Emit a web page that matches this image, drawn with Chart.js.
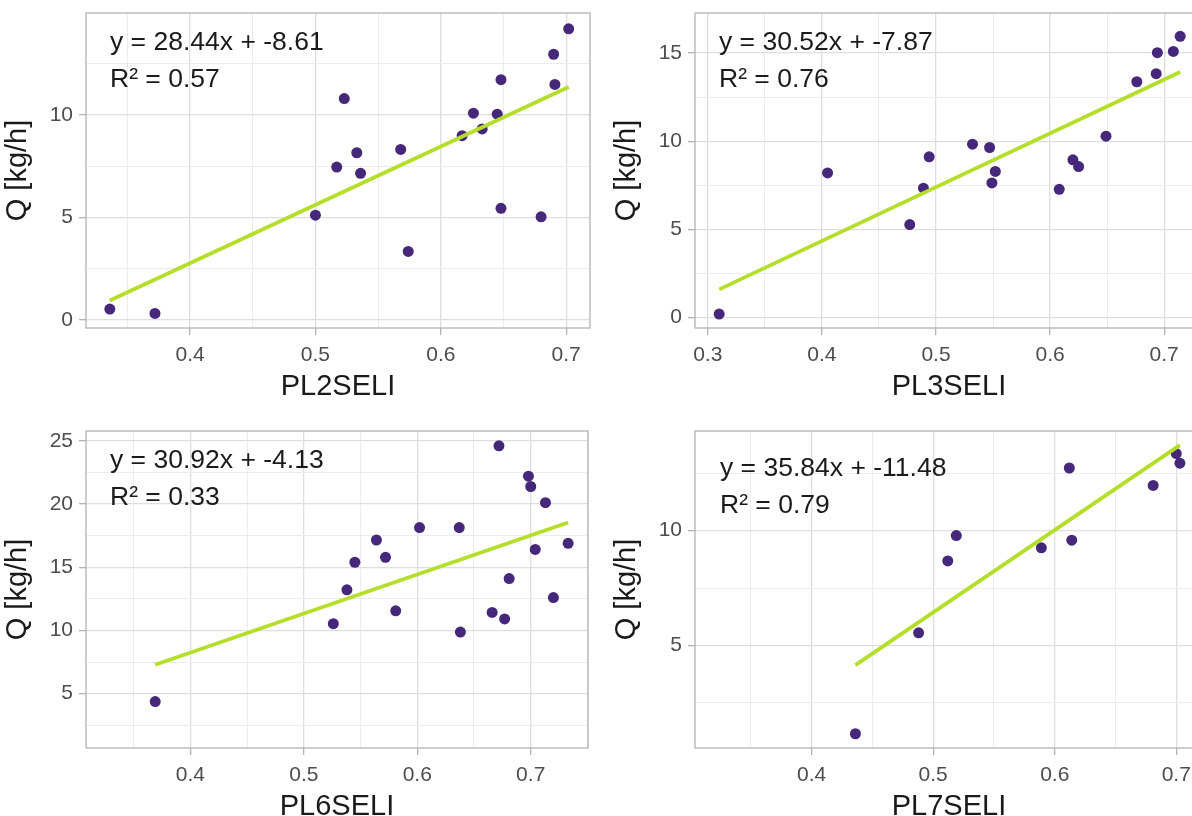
<!DOCTYPE html>
<html>
<head>
<meta charset="utf-8">
<script src="https://cdn.jsdelivr.net/npm/chart.js@4.4.1/dist/chart.umd.min.js"></script>
<style>
html, body { margin: 0; padding: 0; background: #fff; overflow: hidden; width: 1192px; height: 816px; position: relative; }
canvas { position: absolute; }
</style>
</head>
<body>
<canvas id="c1" width="596" height="405" style="left:0;top:0"></canvas>
<canvas id="c2" width="600" height="405" style="left:609px;top:0"></canvas>
<canvas id="c3" width="594" height="407" style="left:0;top:418px"></canvas>
<canvas id="c4" width="600" height="407" style="left:609px;top:418px"></canvas>
<script>
// values
const pl2X = [0.336, 0.372, 0.500, 0.517, 0.523, 0.533, 0.536, 0.568, 0.574, 0.617, 0.626, 0.633, 0.645, 0.648, 0.648, 0.680, 0.690, 0.691, 0.702]
const pl2Q = [0.53, 0.32, 5.11, 7.45, 10.79, 8.15, 7.15, 8.31, 3.34, 8.98, 10.08, 9.31, 10.03, 11.71, 5.44, 5.03, 12.95, 11.48, 14.19]

const pl3X = [0.310, 0.405, 0.477, 0.489, 0.494, 0.532, 0.547, 0.549, 0.552, 0.608, 0.620, 0.625, 0.649, 0.676, 0.693, 0.694, 0.708, 0.714]
const pl3Q = [0.19, 8.20, 5.27, 7.33, 9.11, 9.83, 9.64, 7.63, 8.28, 7.27, 8.94, 8.56, 10.28, 13.37, 13.83, 15.02, 15.09, 15.95]

const pl6X = [0.369, 0.526, 0.538, 0.545, 0.564, 0.572, 0.581, 0.602, 0.637, 0.638, 0.666, 0.672, 0.677, 0.681, 0.698, 0.700, 0.704, 0.713, 0.720, 0.733]
const pl6Q = [4.37, 10.53, 13.21, 15.39, 17.15, 15.78, 11.55, 18.13, 18.13, 9.87, 11.42, 24.60, 10.91, 14.10, 22.20, 21.38, 16.40, 20.10, 12.60, 16.89]

const pl7X = [0.436, 0.488, 0.512, 0.519, 0.589, 0.612, 0.614, 0.681, 0.700, 0.703]
const pl7Q = [1.16, 5.55, 8.68, 9.78, 9.25, 12.72, 9.58, 11.96, 13.35, 12.93]

const xTitles = ['PL2SELI', 'PL3SELI', 'PL6SELI', 'PL7SELI']
const fitSlope = [28.44, 30.52, 30.92, 35.84]
const fitIntercept = [-8.61, -7.87, -4.13, -11.48]
const fitR2 = ['0.57', '0.76', '0.33', '0.79']

const FONT = '"Liberation Sans", Arial, sans-serif'
const pointColor = '#46287a'
const lineColor = '#b5de2b'

const isMajor = (v, step) => Math.abs(v / step - Math.round(v / step)) < 1e-6

// border round the panel + the equation text
const panelPlugin = {
  id: 'panel',
  afterDraw(chart) {
    const {ctx, chartArea} = chart
    const a = chart.options.plugins.panel
    ctx.save()
    ctx.strokeStyle = '#b3b3b3'
    ctx.lineWidth = 1.3
    ctx.strokeRect(chartArea.left, chartArea.top, chartArea.right - chartArea.left, chartArea.bottom - chartArea.top)
    ctx.fillStyle = '#1a1a1a'
    ctx.font = '26.5px ' + FONT
    ctx.textBaseline = 'middle'
    ctx.fillText(a.eq, chartArea.left + a.dx, chartArea.top + a.dy)
    ctx.fillText(a.r2, chartArea.left + a.dx, chartArea.top + a.dy + 37)
    ctx.restore()
  }
}

function makePanel(id, i, xs, qs, xMin, xMax, yMin, yMax, dx, dy) {
  const lo = Math.min(...xs), hi = Math.max(...xs)
  const fit = [
    {x: lo, y: fitSlope[i] * lo + fitIntercept[i]},
    {x: hi, y: fitSlope[i] * hi + fitIntercept[i]}
  ]
  const pts = xs.map((x, k) => ({x: x, y: qs[k]}))

  new Chart(document.getElementById(id), {
    type: 'scatter',
    data: {
      datasets: [
        {type: 'line', data: fit, borderColor: lineColor, borderWidth: 3.8, pointRadius: 0, order: 0},
        {data: pts, backgroundColor: pointColor, borderWidth: 0, pointRadius: 5.5, order: 1}
      ]
    },
    options: {
      responsive: false,
      animation: false,
      layout: {padding: {top: 13, right: 6, left: 0, bottom: 0}},
      plugins: {
        legend: {display: false},
        tooltip: {enabled: false},
        panel: {
          eq: 'y = ' + fitSlope[i].toFixed(2) + 'x + ' + fitIntercept[i].toFixed(2),
          r2: 'R\u00b2 = ' + fitR2[i],
          dx: dx, dy: dy
        }
      },
      scales: {
        x: {
          type: 'linear',
          min: xMin, max: xMax,
          afterFit: s => { s.height = 77; s.paddingLeft = 0; s.paddingRight = 0 },
          border: {display: false},
          grid: {
            color: c => isMajor(c.tick.value, 0.1) ? '#dedede' : '#ececec',
            lineWidth: c => isMajor(c.tick.value, 0.1) ? 1.3 : 1,
            tickColor: c => isMajor(c.tick.value, 0.1) ? '#b3b3b3' : 'rgba(0,0,0,0)',
            tickLength: 7
          },
          ticks: {
            stepSize: 0.05,
            includeBounds: false,
            autoSkip: false,
            maxRotation: 0,
            padding: 8,
            color: '#4d4d4d',
            font: {size: 21, family: FONT},
            callback: v => isMajor(v, 0.1) ? (Math.round(v * 10) / 10).toString() : ''
          },
          title: {display: true, text: xTitles[i], color: '#1a1a1a', font: {size: 29, family: FONT}, padding: {top: 0, bottom: 1}}
        },
        y: {
          type: 'linear',
          min: yMin, max: yMax,
          afterFit: s => { s.width = 86; s.paddingTop = 0; s.paddingBottom = 0 },
          border: {display: false},
          grid: {
            color: c => isMajor(c.tick.value, 5) ? '#dedede' : '#ececec',
            lineWidth: c => isMajor(c.tick.value, 5) ? 1.3 : 1,
            tickColor: c => isMajor(c.tick.value, 5) ? '#b3b3b3' : 'rgba(0,0,0,0)',
            tickLength: 7
          },
          ticks: {
            stepSize: 2.5,
            includeBounds: false,
            autoSkip: false,
            padding: 6,
            color: '#4d4d4d',
            font: {size: 21, family: FONT},
            callback: v => isMajor(v, 5) ? Math.round(v).toString() : ''
          },
          title: {display: true, text: 'Q [kg/h]', color: '#1a1a1a', font: {size: 29, family: FONT}, padding: {top: 1, bottom: 0}}
        }
      }
    },
    plugins: [panelPlugin]
  })
}

makePanel('c1', 0, pl2X, pl2Q, 0.317, 0.719, -0.39, 14.96, 24, 30)
makePanel('c2', 1, pl3X, pl3Q, 0.2888, 0.734, -0.6, 17.27, 24, 30)
makePanel('c3', 2, pl6X, pl6Q, 0.308, 0.7505, 0.7, 25.77, 24, 30)
makePanel('c4', 3, pl7X, pl7Q, 0.304, 0.722, 0.54, 14.33, 25, 38)
</script>
</body>
</html>
